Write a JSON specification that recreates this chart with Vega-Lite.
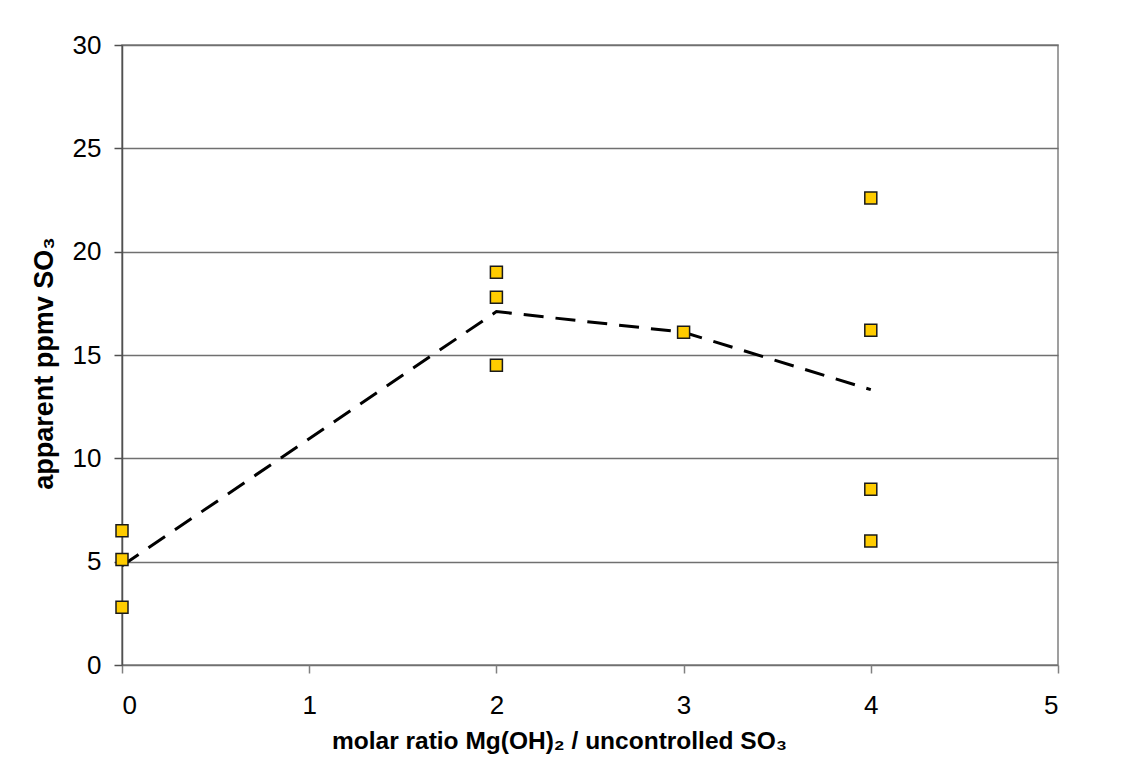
{
  "$schema": "https://vega.github.io/schema/vega-lite/v6.json",
  "width": 936,
  "height": 620,
  "autosize": {"type": "none"},
  "padding": {"left": 122, "top": 45, "right": 74, "bottom": 111},
  "background": "white",
  "config": {
    "font": "Liberation Sans",
    "view": {"stroke": "#808080", "strokeWidth": 1.5},
    "axis": {"labelFont": "Liberation Sans", "titleFont": "Liberation Sans"}
  },
  "data": {
    "values": [
      {"ratio": 0, "ppmv": 6.5},
      {"ratio": 0, "ppmv": 5.1},
      {"ratio": 0, "ppmv": 2.8},
      {"ratio": 2, "ppmv": 19.0},
      {"ratio": 2, "ppmv": 17.8},
      {"ratio": 2, "ppmv": 14.5},
      {"ratio": 3, "ppmv": 16.1},
      {"ratio": 4, "ppmv": 22.6},
      {"ratio": 4, "ppmv": 16.2},
      {"ratio": 4, "ppmv": 8.5},
      {"ratio": 4, "ppmv": 6.0}
    ]
  },
  "encoding": {
    "x": {
      "field": "ratio",
      "type": "quantitative",
      "scale": {"domain": [0, 5], "nice": false, "zero": false},
      "axis": {
        "title": "molar ratio Mg(OH)₂ / uncontrolled SO₃",
        "values": [0, 1, 2, 3, 4, 5],
        "format": "d",
        "grid": false,
        "domain": false,
        "ticks": true,
        "tickColor": "#808080",
        "tickSize": 8,
        "tickWidth": 1.5,
        "labelFontSize": 26,
        "labelColor": "black",
        "labelPadding": 19,
        "titleFontSize": 24.5,
        "titleFontWeight": "bold",
        "titleColor": "black",
        "titlePadding": 11,
        "titleX": 437,
        "titleAnchor": "middle"
      }
    },
    "y": {
      "field": "ppmv",
      "type": "quantitative",
      "scale": {"domain": [0, 30], "nice": false, "zero": true},
      "axis": {
        "title": "apparent ppmv SO₃",
        "values": [0, 5, 10, 15, 20, 25, 30],
        "grid": true,
        "gridColor": "#707070",
        "gridWidth": 1.5,
        "gridOpacity": 1,
        "domain": true,
        "domainColor": "#505050",
        "domainWidth": 1.5,
        "tickColor": "#505050",
        "tickSize": 8,
        "tickWidth": 1.5,
        "labelFontSize": 26,
        "labelColor": "black",
        "labelPadding": 13,
        "titleFontSize": 27,
        "titleFontWeight": "bold",
        "titleColor": "black",
        "titlePadding": 14,
        "titleY": 318,
        "titleAnchor": "middle"
      }
    }
  },
  "layer": [
    {
      "mark": {"type": "line", "color": "black", "strokeWidth": 3, "strokeDash": [20, 12]},
      "encoding": {
        "x": {"field": "ratio", "type": "quantitative"},
        "y": {"field": "ppmv", "type": "quantitative", "aggregate": "mean"}
      }
    },
    {
      "mark": {"type": "point", "shape": "square", "filled": true, "size": 144, "fill": "#FFCC00", "stroke": "#1a1a1a", "strokeWidth": 1.5, "opacity": 1}
    }
  ]
}
